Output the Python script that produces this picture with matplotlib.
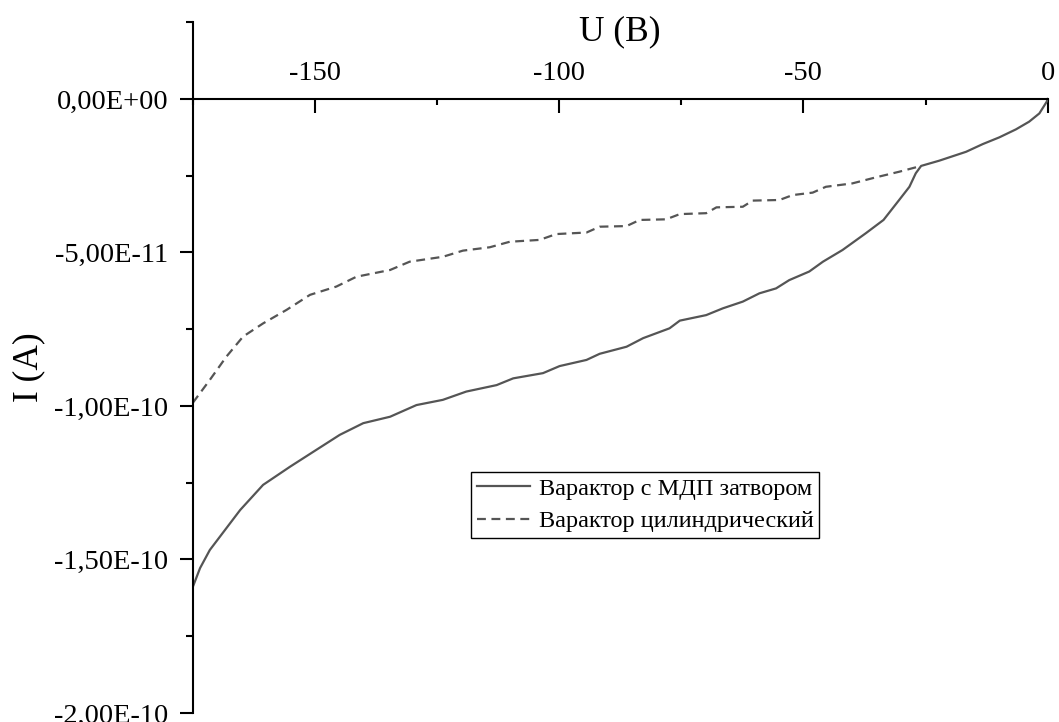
import numpy as np
import matplotlib
matplotlib.use('Agg')
import matplotlib.pyplot as plt
from matplotlib.ticker import MultipleLocator, FuncFormatter

# U in volts, I in units of 1E-11 A
u_mdp = [-175.0, -173.5, -171.5, -168.4, -165.3, -160.6, -155.1, -150.3, -144.9,
         -140.1, -134.6, -129.2, -123.8, -119.0, -112.8, -109.4, -103.3, -99.9,
         -94.4, -91.7, -86.2, -82.8, -77.4, -75.3, -69.9, -66.5, -62.4, -59.0,
         -55.6, -52.9, -48.8, -46.0, -42.0, -37.2, -33.6, -30.4, -28.3, -27.0,
         -25.9, -22.2, -16.7, -13.3, -9.9, -6.5, -3.8, -1.7, -0.2, 0.0]
i_mdp = [-15.9, -15.28, -14.69, -14.04, -13.39, -12.57, -11.98, -11.49, -10.94,
         -10.56, -10.35, -9.97, -9.80, -9.53, -9.32, -9.10, -8.93, -8.70,
         -8.50, -8.30, -8.07, -7.79, -7.47, -7.22, -7.04, -6.82, -6.60, -6.33,
         -6.17, -5.90, -5.62, -5.30, -4.92, -4.37, -3.94, -3.29, -2.86, -2.42,
         -2.18, -2.01, -1.72, -1.47, -1.25, -0.99, -0.74, -0.47, -0.09, 0.0]

u_cyl = [-175.0, -171.5, -168.1, -164.7, -160.6, -155.8, -151.0, -145.6, -141.5,
         -134.6, -130.6, -123.8, -119.7, -114.2, -110.1, -104.0, -100.6, -94.4,
         -91.7, -86.2, -83.5, -78.1, -75.3, -69.9, -67.8, -62.4, -60.4, -54.9,
         -52.2, -48.1, -45.4, -40.0, -35.1, -30.4, -25.9]
i_cyl = [-9.9, -9.15, -8.39, -7.74, -7.31, -6.87, -6.38, -6.11, -5.79,
         -5.57, -5.30, -5.14, -4.94, -4.83, -4.65, -4.59, -4.40, -4.35,
         -4.16, -4.14, -3.94, -3.92, -3.75, -3.72, -3.53, -3.51, -3.31, -3.29,
         -3.13, -3.05, -2.86, -2.75, -2.55, -2.37, -2.18]

label_mdp = 'Варактор с МДП затвором'
label_cyl = 'Варактор цилиндрический'

plt.rcParams['font.family'] = ['Liberation Serif', 'DejaVu Serif']
plt.rcParams['axes.unicode_minus'] = False

fig = plt.figure(figsize=(10.59, 7.22), dpi=100)
ax = fig.add_axes([0.182, 0.0125, 0.8073, 0.9567])

line_color = '#555555'
ax.plot(u_cyl, np.array(i_cyl) * 1e-11, color=line_color, lw=1.6,
        linestyle=(0, (4, 2.5)), label=label_cyl)
ax.plot(u_mdp, np.array(i_mdp) * 1e-11, color=line_color, lw=1.6,
        label=label_mdp)

ax.set_xlim(-175, 0)
ax.set_ylim(-2e-10, 2.5e-11)

# axes: y spine at left edge, x spine at I = 0 with labels above it
for side in ['bottom', 'right']:
    ax.spines[side].set_visible(False)
ax.spines['top'].set_position(('data', 0))
for side in ['top', 'left']:
    ax.spines[side].set_linewidth(1.5)

ax.xaxis.set_ticks_position('top')
ax.xaxis.set_major_locator(MultipleLocator(50))
ax.xaxis.set_minor_locator(MultipleLocator(25))
ax.tick_params(axis='x', which='major', direction='in', length=10, width=1.5,
               pad=9, labelsize=20.5)
ax.tick_params(axis='x', which='minor', direction='in', length=4.5, width=1.5)

ax.yaxis.set_major_locator(MultipleLocator(5e-11))
ax.yaxis.set_minor_locator(MultipleLocator(2.5e-11))
ax.yaxis.set_major_formatter(FuncFormatter(lambda v, p: f'{v:.2E}'.replace('.', ',')))
ax.yaxis.get_offset_text().set_visible(False)
ax.tick_params(axis='y', which='major', direction='out', length=9.5, width=1.5,
               pad=8, labelsize=20.5)
ax.tick_params(axis='y', which='minor', direction='out', length=5, width=1.5)

ax.xaxis.set_label_position('top')
ax.set_xlabel('U (B)', fontsize=25.5)
ax.xaxis.set_label_coords(0.5, 0.986)
ax.xaxis.label.set_va('center')
ax.set_ylabel('I (A)', fontsize=25.5)
ax.yaxis.set_label_coords(-0.192, 0.5)
ax.yaxis.label.set_va('center')

handles, labels = ax.get_legend_handles_labels()
leg = ax.legend(handles[::-1], labels[::-1], loc='upper left',
                bbox_to_anchor=(0.325, 0.349), borderaxespad=0, fontsize=17.5,
                frameon=True, fancybox=False, framealpha=1, handlelength=2.2,
                handletextpad=0.35, borderpad=0.25, labelspacing=0.42)
leg.get_frame().set_edgecolor('black')
leg.get_frame().set_linewidth(1.0)

fig.savefig('out.png', dpi=100)
